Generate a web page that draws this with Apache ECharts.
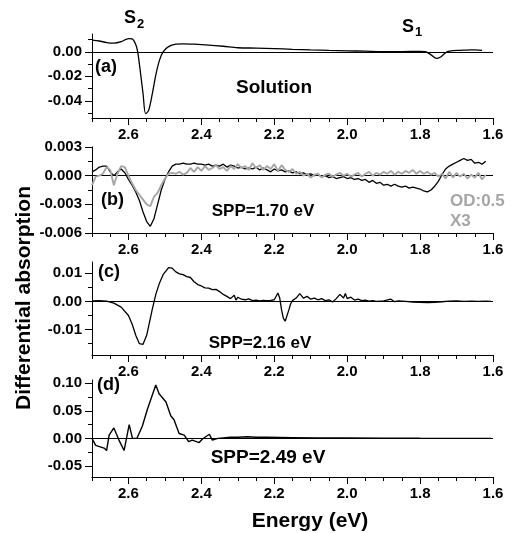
<!DOCTYPE html>
<html><head><meta charset="utf-8">
<script src="https://cdn.jsdelivr.net/npm/echarts@6/dist/echarts.min.js"></script>
<style>html,body{margin:0;padding:0;background:#fff}#c{width:512px;height:533px}</style>
</head><body><div id="c"></div>
<script>
// ---------- tick labels ----------
const energyTicks = [1.6, 1.8, 2.0, 2.2, 2.4, 2.6];
const energyMinorTicks = [1.65,1.7,1.75,1.85,1.9,1.95,2.05,2.1,2.15,2.25,2.3,2.35,2.45,2.5,2.55,2.65,2.7];
const yTicksA = [-0.04, -0.02, 0.00];           const yMinorA = [-0.05, -0.03, -0.01, 0.01];
const yTicksB = [-0.006, -0.003, 0.000, 0.003]; const yMinorB = [-0.0045, -0.0015, 0.0015];
const yTicksC = [-0.01, 0.00, 0.01];            const yMinorC = [-0.015, -0.005, 0.005];
const yTicksD = [-0.05, 0.00, 0.05, 0.10];      const yMinorD = [-0.025, 0.025, 0.075];

// ---------- panel (a): solution ----------
const energyA = [2.70,2.68,2.66,2.64,2.62,2.60,2.59,2.58,2.575,2.57,2.565,2.56,2.553,2.545,2.535,2.525,2.515,2.505,2.49,2.47,
  2.45,2.42,2.38,2.34,2.30,2.25,2.20,2.15,2.10,2.05,2.00,1.95,1.90,1.85,1.80,1.785,1.77,1.755,1.745,1.735,
  1.725,1.71,1.69,1.67,1.65,1.63];
const absA = [0.0095,0.0088,0.0075,0.0070,0.0082,0.0108,0.0105,0.0060,0.0005,-0.010,-0.022,-0.034,-0.0505,-0.048,-0.035,-0.019,-0.007,0.000,0.0042,0.0062,
  0.0065,0.0062,0.0055,0.0045,0.0033,0.0030,0.0026,0.0020,0.0015,0.0011,0.0008,0.0005,0.0002,0.0002,0.0004,0.0001,-0.0025,-0.0054,-0.0045,-0.0020,
  0.0002,0.0010,0.0012,0.0014,0.0016,0.0012];

// ---------- panel (b): SPP = 1.70 eV ----------
const energyB = [
  2.70,2.69,2.68,2.67,2.66,2.65,2.64,2.63,2.62,2.61,
  2.60,2.59,2.58,2.57,2.56,2.55,2.54,2.53,2.52,2.51,
  2.50,2.49,2.48,2.47,2.46,2.45,2.44,2.43,2.42,2.41,
  2.40,2.39,2.38,2.37,2.36,2.35,2.34,2.33,2.32,2.31,
  2.30,2.29,2.28,2.27,2.26,2.25,2.24,2.23,2.22,2.21,
  2.20,2.19,2.18,2.17,2.16,2.15,2.14,2.13,2.12,2.11,
  2.10,2.09,2.08,2.07,2.06,2.05,2.04,2.03,2.02,2.01,
  2.00,1.99,1.98,1.97,1.96,1.95,1.94,1.93,1.92,1.91,
  1.90,1.89,1.88,1.87,1.86,1.85,1.84,1.83,1.82,1.81,
  1.80,1.79,1.78,1.77,1.76,1.75,1.74,1.73,1.72,1.71,
  1.70,1.69,1.68,1.67,1.66,1.65,1.64,1.63,1.62];
const absB = [
  0.0004,0.0006,0.0009,0.0010,0.0010,0.0004,0.0000,0.0004,0.0007,0.0003,
  -0.0004,-0.0010,-0.0017,-0.0026,-0.0038,-0.0048,-0.0053,-0.0045,-0.0030,-0.0015,
  -0.0004,0.0004,0.0010,0.0012,0.0012,0.0013,0.0012,0.0012,0.0013,0.0012,
  0.0012,0.0011,0.0012,0.0010,0.0011,0.0010,0.0012,0.0009,0.0011,0.0010,
  0.0008,0.0009,0.0007,0.0008,0.0007,0.0009,0.0006,0.0008,0.0006,0.0004,
  0.0007,0.0005,0.0006,0.0004,0.0005,0.0003,0.0004,0.0002,0.0003,0.0001,
  0.0002,0.0000,0.0001,-0.0001,0.0000,-0.0002,-0.0001,-0.0003,-0.0002,-0.0001,
  -0.0003,-0.0002,-0.0004,-0.0003,-0.0005,-0.0004,-0.0007,-0.0005,-0.0008,-0.0007,
  -0.0010,-0.0009,-0.0011,-0.0009,-0.0011,-0.0012,-0.0011,-0.0013,-0.0012,-0.0013,
  -0.0014,-0.0016,-0.0017,-0.0015,-0.0011,-0.0006,0.0001,0.0007,0.0010,0.0012,
  0.0014,0.0016,0.0018,0.0016,0.0017,0.0013,0.0014,0.0012,0.0015];
const absBod = [   // OD:0.5, x3
  -0.0010,-0.0001,0.0000,0.0002,0.0009,0.0006,-0.0010,0.0002,0.0010,0.0009,
  0.0000,-0.0008,-0.0015,-0.0020,-0.0025,-0.0030,-0.0032,-0.0022,-0.0018,-0.0010,
  -0.0003,0.0002,0.0003,0.0002,0.0004,0.0001,0.0003,0.0008,0.0004,0.0009,
  0.0005,0.0010,0.0006,0.0008,0.0011,0.0007,0.0009,0.0005,0.0010,0.0007,
  0.0012,0.0008,0.0010,0.0006,0.0013,0.0008,0.0011,0.0006,0.0010,0.0007,
  0.0012,0.0005,0.0011,0.0006,0.0004,0.0007,0.0002,0.0004,0.0000,0.0002,
  -0.0002,0.0001,0.0002,-0.0002,0.0001,0.0002,-0.0001,0.0001,0.0003,0.0000,
  0.0002,-0.0001,0.0001,0.0003,-0.0001,0.0002,0.0004,0.0000,0.0003,0.0001,
  0.0004,0.0002,0.0005,0.0001,0.0004,0.0002,0.0005,0.0003,0.0006,0.0002,
  0.0005,0.0002,0.0004,0.0001,0.0003,-0.0001,0.0002,-0.0003,0.0004,-0.0002,
  0.0003,-0.0001,0.0002,-0.0003,0.0001,-0.0002,0.0003,-0.0004,0.0001];

// ---------- panel (c): SPP = 2.16 eV ----------
const energyC = [2.70,2.68,2.66,2.64,2.62,2.60,2.59,2.58,2.57,2.56,2.55,2.545,2.535,2.525,2.515,2.505,2.49,2.48,2.47,2.46,
  2.45,2.44,2.43,2.42,2.41,2.40,2.39,2.38,2.37,2.36,2.35,2.34,2.33,2.32,2.31,2.305,2.30,2.29,2.28,2.27,
  2.26,2.25,2.24,2.23,2.22,2.21,2.20,2.19,2.185,2.18,2.175,2.17,2.165,2.16,2.155,2.15,2.14,2.13,2.12,2.11,
  2.10,2.09,2.08,2.07,2.06,2.05,2.04,2.03,2.02,2.01,2.005,2.00,1.99,1.98,1.97,1.96,1.95,1.94,1.93,1.92,
  1.90,1.88,1.87,1.86,1.84,1.82,1.80,1.78,1.76,1.74,1.72,1.70,1.68,1.66,1.64,1.62,1.605];
const absC = [0.0002,0.0003,0.0001,-0.0006,-0.0020,-0.0050,-0.0080,-0.0120,-0.0150,-0.0152,-0.0120,-0.0090,-0.0030,0.0025,0.0065,0.0095,0.0120,0.0118,0.0105,0.0098,
  0.0095,0.0088,0.0085,0.0070,0.0060,0.0055,0.0048,0.0047,0.0042,0.0043,0.0035,0.0025,0.0018,0.0010,0.0022,0.0005,0.0015,0.0008,0.0006,0.0009,
  0.0003,0.0005,0.0002,0.0004,0.0003,0.0004,0.0006,0.0030,0.0012,-0.0030,-0.0060,-0.0070,-0.0068,-0.0030,-0.0008,0.0003,0.0012,0.0028,0.0012,0.0018,
  0.0008,0.0012,0.0006,0.0010,0.0003,0.0006,-0.0002,0.0010,0.0025,0.0012,0.0028,0.0010,0.0015,0.0005,0.0008,0.0003,0.0005,0.0001,0.0003,0.0000,
  0.0002,0.0008,-0.0001,0.0002,0.0000,-0.0002,-0.0003,-0.0004,-0.0003,-0.0001,0.0001,0.0002,0.0000,0.0001,0.0000,0.0001,0.0000];

// ---------- panel (d): SPP = 2.49 eV ----------
const energyD = [2.70,2.69,2.667,2.66,2.653,2.64,2.626,2.612,2.609,2.598,2.589,2.577,2.562,2.548,2.525,2.516,2.497,2.484,2.475,2.461,
  2.447,2.435,2.425,2.406,2.397,2.378,2.37,2.355,2.34,2.32,2.30,2.274,2.25,2.22,2.15,2.08,2.00,1.90,1.80,1.70,1.605];
const absD = [0.000,-0.0125,-0.0175,-0.022,0.006,0.019,-0.003,-0.022,-0.025,0.025,0.000,0.000,0.022,0.053,0.097,0.081,0.066,0.041,0.034,0.009,
  0.006,-0.006,-0.003,-0.0075,-0.001,0.0075,-0.003,0.000,0.001,0.002,0.002,0.003,0.002,0.002,0.0015,0.001,0.0008,0.0005,0.0002,0.000,0.000];

// ---------- build ----------
const FF = '"Liberation Sans", Arial, Helvetica, sans-serif';
const zip = (xs, ys) => xs.slice(0, Math.min(xs.length, ys.length)).map((x, i) => [x, ys[i]]);

const panels = [
  {grid:{top:34, height:84}, min:-0.054, max:0.0145, ticks:yTicksA, minor:yMinorA, dec:2,
   series:[{data:zip(energyA, absA), color:'#000', width:1.3, smooth:0.3}]},
  {grid:{top:147, height:86}, min:-0.006, max:0.003, ticks:yTicksB, minor:yMinorB, dec:3,
   series:[{data:zip(energyB, absB), color:'#000', width:1.3, smooth:false},
           {data:zip(energyB, absBod), color:'#a6a6a6', width:1.9, smooth:false}]},
  {grid:{top:262, height:93}, min:-0.019, max:0.014, ticks:yTicksC, minor:yMinorC, dec:2,
   series:[{data:zip(energyC, absC), color:'#000', width:1.3, smooth:false}]},
  {grid:{top:380, height:97}, min:-0.07, max:0.106, ticks:yTicksD, minor:yMinorD, dec:2,
   series:[{data:zip(energyD, absD), color:'#000', width:1.4, smooth:false}]}
];

const grid = [], xAxis = [], yAxis = [], series = [];
const black = {color:'#000', width:1};
panels.forEach((p, i) => {
  grid.push({left:92, right:19, top:p.grid.top, height:p.grid.height, containLabel:false});
  xAxis.push({
    gridIndex:i, type:'value', min:1.6, max:2.7, inverse:true, position:'bottom',
    axisLine:{show:true, onZero:false, lineStyle:black},
    axisTick:{show:true, customValues:energyTicks, length:7, lineStyle:black},
    axisLabel:{show:true, customValues:energyTicks, formatter:v => v.toFixed(1), color:'#000',
      fontFamily:FF, fontWeight:'bold', fontSize:15, margin:9},
    splitLine:{show:false}
  });
  xAxis.push({
    gridIndex:i, type:'value', min:1.6, max:2.7, inverse:true, position:'bottom',
    axisLine:{show:false, onZero:false},
    axisTick:{show:true, customValues:energyMinorTicks, length:4, lineStyle:black},
    axisLabel:{show:false}, splitLine:{show:false}
  });
  yAxis.push({
    gridIndex:i, type:'value', min:p.min, max:p.max, position:'left',
    axisLine:{show:true, onZero:false, lineStyle:black},
    axisTick:{show:true, customValues:p.ticks, length:7, lineStyle:black},
    axisLabel:{show:true, customValues:p.ticks, formatter:v => v.toFixed(p.dec), color:'#000',
      fontFamily:FF, fontWeight:'bold', fontSize:15, margin:10},
    splitLine:{show:false}
  });
  yAxis.push({
    gridIndex:i, type:'value', min:p.min, max:p.max, position:'left',
    axisLine:{show:false, onZero:false},
    axisTick:{show:true, customValues:p.minor, length:4, lineStyle:black},
    axisLabel:{show:false}, splitLine:{show:false}
  });
  p.series.forEach((s, k) => {
    const ser = {
      type:'line', xAxisIndex:2*i, yAxisIndex:2*i, data:s.data, showSymbol:false, symbol:'none',
      smooth:s.smooth, lineStyle:{color:s.color, width:s.width}, itemStyle:{color:s.color},
      clip:true, z:3+k
    };
    if (k === 0) {
      ser.markLine = {silent:true, symbol:['none','none'], label:{show:false},
        lineStyle:{color:'#000', width:1, type:'solid'}, data:[{yAxis:0}], z:2};
    }
    series.push(ser);
  });
});

function T(text, x, y, size, extra) {
  return {type:'text', x:x, y:y, z:100,
    style:Object.assign({text:text, font:'bold ' + size + 'px ' + FF, fill:'#000', align:'left', verticalAlign:'middle'}, extra || {})};
}
const graphic = [
  T('S', 124, 18, 18), T('2', 137, 24, 13),
  T('S', 402, 27, 18), T('1', 415, 32, 13),
  T('(a)', 95, 67, 18),
  T('Solution', 274, 88, 19, {align:'center'}),
  T('(b)', 101, 200, 18),
  T('SPP=1.70 eV', 263, 211, 17, {align:'center'}),
  T('OD:0.5', 450, 201, 17, {fill:'#a6a6a6'}),
  T('X3', 450, 221, 17, {fill:'#a6a6a6'}),
  T('(c)', 98, 272, 18),
  T('SPP=2.16 eV', 260, 343, 17, {align:'center'}),
  T('(d)', 97, 385, 18),
  T('SPP=2.49 eV', 268, 458, 19, {align:'center'}),
  T('Energy (eV)', 310, 521, 21, {align:'center'}),
  Object.assign(T('Differential absorption', 0, 0, 21, {align:'center'}), {x:24, y:298, rotation:Math.PI/2})
];

const chart = echarts.init(document.getElementById('c'), null, {renderer:'canvas'});
chart.setOption({animation:false, backgroundColor:'#fff', grid, xAxis, yAxis, series, graphic});
</script></body></html>
